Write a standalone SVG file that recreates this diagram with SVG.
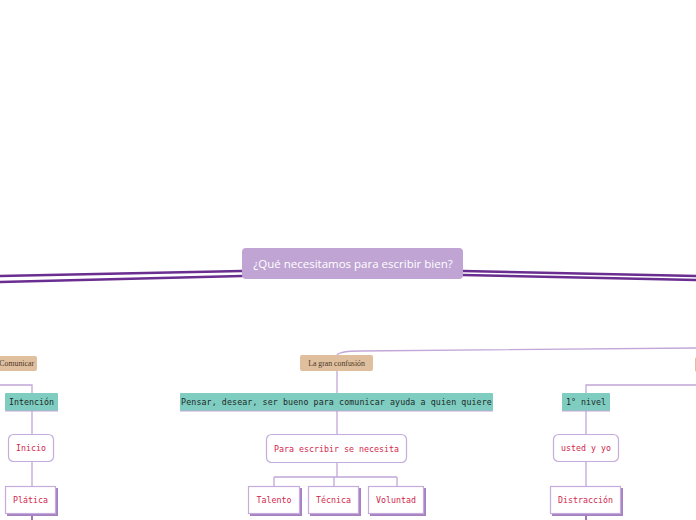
<svg xmlns="http://www.w3.org/2000/svg" width="696" height="520" viewBox="0 0 696 520">
<style>
.main{stroke:#6a2d90;stroke-width:2.6;fill:none;stroke-linecap:round}
.conn{stroke:#c2a7d8;stroke-width:1.3;fill:none}
.tan{fill:#e0bf9f}
.tant{font-family:"Liberation Serif",serif;font-size:7.8px;fill:#4a3826}
.teal{fill:#7ecdc0}
.teall{stroke:#c2a7d8;stroke-width:1.2}
.mono{font-family:"DejaVu Sans Mono",monospace;font-size:8.3px}
.dark{fill:#1f2a28}
.red{fill:#d21f4c}
.rbox{fill:#fff;stroke:#c6acdc;stroke-width:1.2}
.shadow{fill:#a682c2}
</style>
<rect width="696" height="520" fill="#fff"/>
<g id="connectors">
<path class="main" d="M0 276 L242 271"/>
<path class="main" d="M0 282 L242 276"/>
<path class="main" d="M463 271 L696 276"/>
<path class="main" d="M463 275 L696 280"/>
<path class="conn" d="M337 355 Q340 351 360 351 L696 348"/>
<path class="conn" d="M0 385 H32 V394"/>
<path class="conn" d="M32 411 V434 M32 462 V486"/>
<path d="M32 514 V520" stroke="#7a4a9a" stroke-width="1.5"/>
<path class="conn" d="M337 371 V394 M337 411 V434 M337 463 V477 M274 477 H397 M274 477 V486 M334 477 V486 M397 477 V486"/>
<path class="conn" d="M696 385 H586 V393 M586 411 V434 M586 462 V486"/>
<path d="M586 514 V520" stroke="#7a4a9a" stroke-width="1.5"/>
</g>
<g id="central">
<rect x="242" y="248" width="221" height="31" rx="4" fill="#c0a5d4"/>
<text x="353" y="268" text-anchor="middle" font-family="Open Sans,Liberation Sans,sans-serif" font-size="11.5" fill="#fff">¿Qué necesitamos para escribir bien?</text>
</g>
<g id="comunicar">
<rect class="tan" x="-20" y="356" width="57" height="15" rx="2"/>
<text class="tant" x="34" y="366" text-anchor="end">Comunicar</text>
</g>
<g id="intencion">
<rect class="teal" x="5" y="393" width="53" height="18" rx="1"/>
<line class="teall" x1="5" y1="411" x2="58" y2="411"/>
<text class="mono dark" x="31.5" y="405" text-anchor="middle">Intención</text>
</g>
<g id="inicio">
<rect class="rbox" x="8.5" y="434.5" width="45" height="27" rx="5"/>
<text class="mono red" x="31" y="451" text-anchor="middle">Inicio</text>
</g>
<g id="platica">
<rect class="shadow" x="7" y="488" width="51" height="28"/>
<rect class="rbox" x="5.5" y="486.5" width="50" height="27"/>
<text class="mono red" x="30.5" y="503" text-anchor="middle">Plática</text>
</g>
<g id="confusion">
<rect class="tan" x="300" y="355" width="73" height="16" rx="2"/>
<text class="tant" x="336.5" y="366" text-anchor="middle">La gran confusión</text>
</g>
<g id="pensar">
<rect class="teal" x="180" y="393" width="313" height="18" rx="1"/>
<line class="teall" x1="180" y1="411" x2="493" y2="411"/>
<text class="mono dark" x="336.5" y="405" text-anchor="middle" letter-spacing="0.1">Pensar, desear, ser bueno para comunicar ayuda a quien quiere</text>
</g>
<g id="necesita">
<rect class="rbox" x="266.5" y="434.5" width="140" height="28" rx="5"/>
<text class="mono red" x="336.5" y="451.5" text-anchor="middle">Para escribir se necesita</text>
</g>
<g id="talento">
<rect class="shadow" x="250" y="488" width="52" height="28"/>
<rect class="rbox" x="248.5" y="486.5" width="51" height="27"/>
<text class="mono red" x="274" y="503" text-anchor="middle">Talento</text>
</g>
<g id="tecnica">
<rect class="shadow" x="310" y="488" width="51" height="28"/>
<rect class="rbox" x="308.5" y="486.5" width="50" height="27"/>
<text class="mono red" x="333.5" y="503" text-anchor="middle">Técnica</text>
</g>
<g id="voluntad">
<rect class="shadow" x="370" y="488" width="56" height="28"/>
<rect class="rbox" x="368.5" y="486.5" width="55" height="27"/>
<text class="mono red" x="396" y="503" text-anchor="middle">Voluntad</text>
</g>
<g id="right-branch">
<rect class="tan" x="695" y="357" width="20" height="15" rx="2"/>
</g>
<g id="nivel">
<rect class="teal" x="562" y="393" width="48" height="18" rx="1"/>
<line class="teall" x1="562" y1="411" x2="610" y2="411"/>
<text class="mono dark" x="586" y="405" text-anchor="middle">1° nivel</text>
</g>
<g id="ustedyo">
<rect class="rbox" x="553.5" y="434.5" width="65" height="27" rx="5"/>
<text class="mono red" x="586" y="451" text-anchor="middle">usted y yo</text>
</g>
<g id="distraccion">
<rect class="shadow" x="552" y="488" width="71" height="28"/>
<rect class="rbox" x="550.5" y="486.5" width="70" height="27"/>
<text class="mono red" x="585.5" y="503" text-anchor="middle">Distracción</text>
</g>
</svg>
